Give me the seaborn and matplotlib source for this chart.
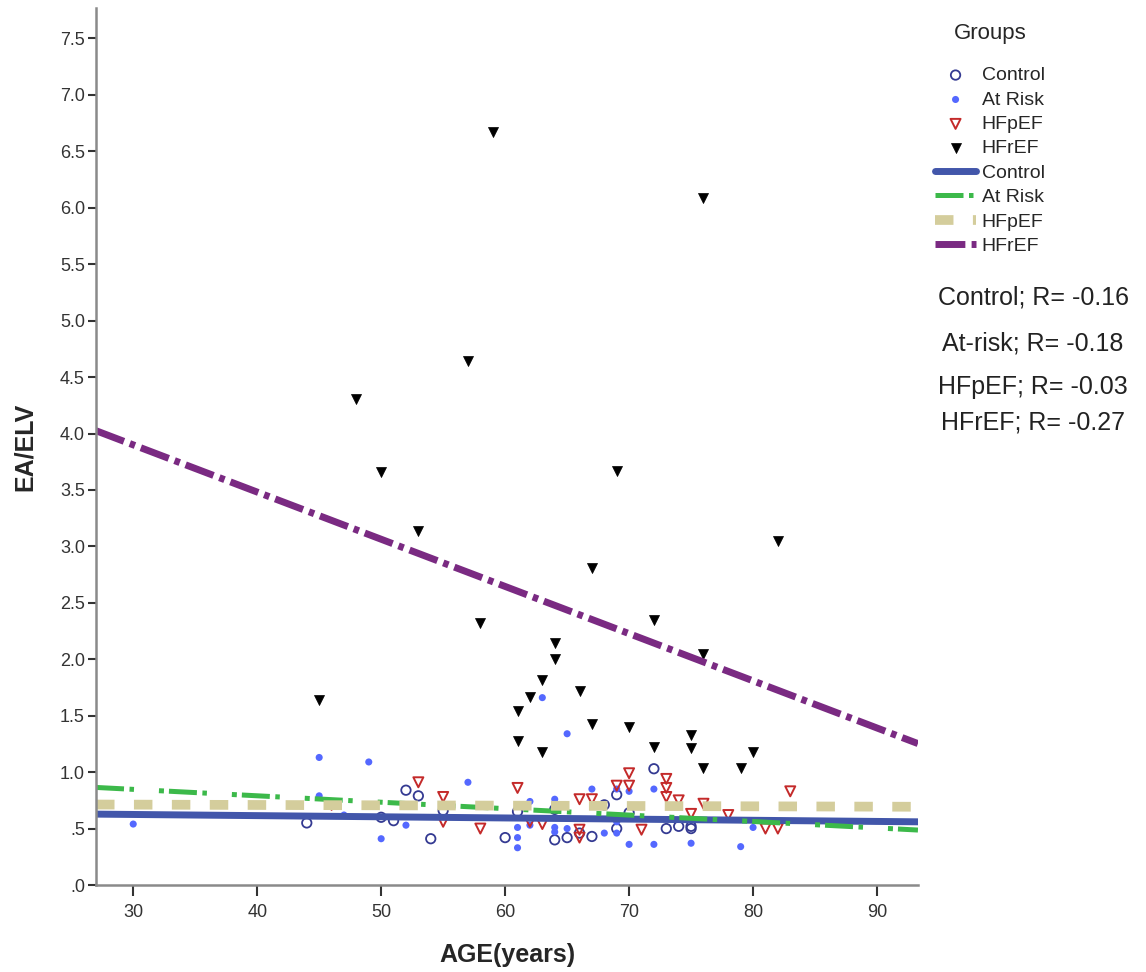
import pandas as pd
import seaborn as sns
import matplotlib.pyplot as plt
from matplotlib.ticker import FuncFormatter, MultipleLocator

# values (age in years, EA/ELV ratio)
groups = ['Control', 'At Risk', 'HFpEF', 'HFrEF']

control_age = [44, 50, 51, 52, 53, 54, 55, 60, 61, 64, 64, 65, 66, 67, 68, 69, 69, 70,
               72, 73, 74, 75, 75]
control_ratio = [0.55, 0.60, 0.57, 0.84, 0.79, 0.41, 0.66, 0.42, 0.65, 0.67, 0.40, 0.42,
                 0.46, 0.43, 0.71, 0.80, 0.50, 0.64, 1.03, 0.50, 0.52, 0.50, 0.52]

atrisk_age = [30, 45, 45, 47, 49, 50, 52, 57, 61, 61, 61, 62, 62, 63, 64, 64, 64, 65, 65,
              67, 68, 69, 69, 69, 70, 70, 72, 72, 75, 79, 80]
atrisk_ratio = [0.54, 1.13, 0.79, 0.62, 1.09, 0.41, 0.53, 0.91, 0.51, 0.42, 0.33, 0.74,
                0.53, 1.66, 0.76, 0.51, 0.47, 1.34, 0.50, 0.85, 0.46, 0.85, 0.56, 0.46,
                0.83, 0.36, 0.85, 0.36, 0.37, 0.34, 0.51]

hfpef_age = [46, 53, 55, 55, 58, 61, 62, 63, 66, 66, 66, 67, 69, 70, 70, 71, 73, 73, 73,
             74, 75, 76, 78, 81, 82, 83]
hfpef_ratio = [0.71, 0.91, 0.78, 0.56, 0.50, 0.86, 0.56, 0.54, 0.76, 0.49, 0.42, 0.76,
               0.88, 0.99, 0.88, 0.49, 0.94, 0.86, 0.78, 0.75, 0.63, 0.72, 0.62, 0.50,
               0.50, 0.83]

hfref_age = [45, 48, 50, 53, 57, 58, 59, 61, 61, 62, 63, 63, 64, 64, 66, 67, 67, 69, 70,
             72, 72, 75, 75, 76, 76, 76, 79, 80, 82]
hfref_ratio = [1.64, 4.31, 3.66, 3.14, 4.64, 2.32, 6.67, 1.54, 1.28, 1.67, 1.82, 1.18,
               2.14, 2.00, 1.72, 1.43, 2.81, 3.67, 1.40, 2.35, 1.22, 1.33, 1.21, 6.09,
               2.05, 1.04, 1.04, 1.18, 3.05]

r_labels = ['Control; R= -0.16', 'At-risk; R= -0.18', 'HFpEF; R= -0.03', 'HFrEF; R= -0.27']

df = pd.concat([
    pd.DataFrame({'age': control_age, 'ratio': control_ratio, 'group': 'Control'}),
    pd.DataFrame({'age': atrisk_age, 'ratio': atrisk_ratio, 'group': 'At Risk'}),
    pd.DataFrame({'age': hfpef_age, 'ratio': hfpef_ratio, 'group': 'HFpEF'}),
    pd.DataFrame({'age': hfref_age, 'ratio': hfref_ratio, 'group': 'HFrEF'}),
], ignore_index=True)

sns.set_style('white')
plt.rcParams['font.family'] = ['Liberation Sans', 'DejaVu Sans']

point_style = {
    'Control': dict(marker='o', s=46, color='#343a92', facecolors='none',
                    edgecolor='#343a92', linewidth=1.3),
    'At Risk': dict(marker='o', s=26, color='#5468ff', edgecolor='none', linewidth=0),
    'HFpEF': dict(marker='v', s=52, color='#c42a2a', facecolors='none',
                  edgecolor='#c42a2a', linewidth=1.4),
    'HFrEF': dict(marker='v', s=52, color='black', edgecolor='black', linewidth=0.5),
}
line_style = {
    'Control': dict(color='#4256aa', lw=5.0, linestyle='-'),
    'At Risk': dict(color='#3cb94a', lw=3.6, linestyle=(0, (5.6, 1.1, 0.9, 5.0, 1.0, 1.0))),
    'HFpEF': dict(color='#d4cd9c', lw=7.0, linestyle=(0, (1.9, 2.0))),
    'HFrEF': dict(color='#7a2a82', lw=5.0, linestyle=(0, (4.3, 0.9, 0.8, 0.9))),
}

fig = plt.figure(figsize=(11.46, 9.72), dpi=100)
ax = fig.add_axes([0.0838, 0.0895, 0.7172, 0.9023])
xlim = (27.0, 93.3)
ylim = (0, 7.77)
ax.set_xlim(*xlim)
ax.set_ylim(*ylim)

for g in groups:
    sub = df[df['group'] == g]
    sns.scatterplot(data=sub, x='age', y='ratio', ax=ax, label=g, legend=False,
                    **point_style[g])

for g in groups:
    sub = df[df['group'] == g]
    sns.regplot(data=sub, x='age', y='ratio', ax=ax, scatter=False, ci=None,
                truncate=False, label=g, line_kws=line_style[g])

ax.set_xlim(*xlim)
ax.set_ylim(*ylim)

# axes look
sns.despine(ax=ax)
for side in ['left', 'bottom']:
    ax.spines[side].set_color('#8a8a8a')
    ax.spines[side].set_linewidth(1.8)
ax.xaxis.set_major_locator(MultipleLocator(10))
ax.yaxis.set_major_locator(MultipleLocator(0.5))
ax.yaxis.set_major_formatter(FuncFormatter(lambda v, p: f'{v:.1f}'.lstrip('0') if v < 1 else f'{v:.1f}'))
ax.tick_params(axis='both', direction='out', width=1.5, color='#333333',
               labelcolor='#333333', labelsize=13, left=True, bottom=True)
ax.tick_params(axis='y', length=6, pad=2)
ax.tick_params(axis='x', length=8, pad=6)

ax.set_xlabel('AGE(years)', fontsize=18, fontweight='bold')
ax.set_ylabel('EA/ELV', fontsize=18, fontweight='bold')
ax.xaxis.set_label_coords(0.5, -0.066)
ax.yaxis.set_label_coords(-0.072, 0.5)

handles, labels = ax.get_legend_handles_labels()
leg = fig.legend(handles, labels, title='Groups', loc='upper left',
                 bbox_to_anchor=(0.816, 0.976), frameon=False, fontsize=14,
                 title_fontsize=16, handlelength=2.1, handletextpad=0.3,
                 labelspacing=0.35, borderpad=0, borderaxespad=0, scatterpoints=1)
leg._legend_box.sep = 16

r_y = [297, 343, 387, 422]
for txt, yy in zip(r_labels, r_y):
    fig.text(1033 / 1146, 1 - yy / 972, txt, ha='center', va='center',
             fontsize=18, color='#222222')

plt.savefig('out.png', dpi=100)
plt.close()
